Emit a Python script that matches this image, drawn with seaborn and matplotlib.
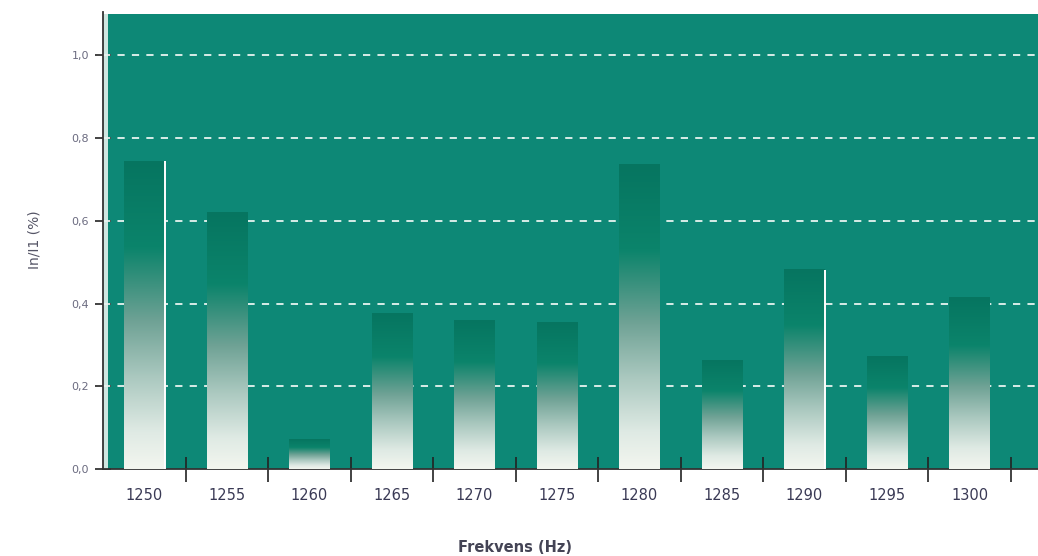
import numpy as np
import pandas as pd
import matplotlib
matplotlib.use("Agg")
import matplotlib.pyplot as plt
from matplotlib.colors import LinearSegmentedColormap
from matplotlib.ticker import FuncFormatter, FixedLocator
import seaborn as sns

# Harmonic content per frequency
frequencies = ["1250", "1255", "1260", "1265", "1270", "1275",
               "1280", "1285", "1290", "1295", "1300"]
ratios = [0.744, 0.621, 0.072, 0.377, 0.360, 0.355,
          0.737, 0.263, 0.482, 0.272, 0.414]
y_ticks = [0.0, 0.2, 0.4, 0.6, 0.8, 1.0]
edge_highlight = ["1250", "1290"]

df = pd.DataFrame({"freq": frequencies, "ratio": ratios})

sns.set_theme(style="white")
plt.rcParams["font.family"] = ["DejaVu Sans"]

BG = "#0d8876"
W, H = 1038, 556
fig = plt.figure(figsize=(W / 100, H / 100), dpi=100)
left_px, bottom_px, top_px = 103, 469, 14
ax = fig.add_axes([left_px / W, (H - bottom_px) / H,
                   1 - left_px / W, (bottom_px - top_px) / H])
ax.set_facecolor(BG)

sns.barplot(data=df, x="freq", y="ratio", width=0.49, color=BG, ax=ax,
            saturation=1, zorder=3)

# Vertical gradient: dark teal at the top fading to off-white at the base
grad_cmap = LinearSegmentedColormap.from_list(
    "bar_grad",
    [(0.0, "#f3f6ef"), (0.12, "#dfeae4"), (0.3, "#aac8bf"),
     (0.48, "#6fa295"), (0.6, "#3d927f"), (0.72, "#0b846b"),
     (1.0, "#067560")])
gradient = np.linspace(0, 1, 256).reshape(-1, 1)

for patch, name in zip(ax.patches, frequencies):
    x0, y0 = patch.get_x(), patch.get_y()
    w, h = patch.get_width(), patch.get_height()
    patch.set_visible(False)
    ax.imshow(gradient, cmap=grad_cmap, aspect="auto", origin="lower",
              extent=(x0, x0 + w, y0, y0 + h), zorder=3, interpolation="bicubic")
    if name in edge_highlight:
        ax.plot([x0 + w + 0.008, x0 + w + 0.008], [0, h], color="white",
                lw=1.4, zorder=4, solid_capstyle="butt")

# Thin light strip along the value axis
ax.axvspan(-0.5, -0.44, color="#cfe6e0", zorder=1, lw=0)

ax.set_xlim(-0.5, 10.83)
ax.set_ylim(0, 1.1)

# Dashed grid behind the bars
for v in y_ticks[1:]:
    ax.axhline(v, color="#e8f4f0", lw=1.3, ls=(0, (4, 4)), zorder=2)

ax.yaxis.set_major_locator(FixedLocator(y_ticks))
ax.yaxis.set_major_formatter(FuncFormatter(lambda v, p: f"{v:.1f}".replace(".", ",")))
ax.set_xticks(np.arange(len(frequencies)))
ax.set_xticklabels(frequencies)
ax.xaxis.set_minor_locator(FixedLocator(np.arange(len(frequencies)) + 0.5))

ax.tick_params(axis="y", which="major", direction="inout", length=12, width=1.2,
               color="#222222", labelsize=8, labelcolor="#6b6b80", pad=4, left=True)
ax.tick_params(axis="x", which="major", length=0, labelsize=10.5,
               labelcolor="#3a3a55", pad=14)
ax.tick_params(axis="x", which="minor", direction="inout", length=18, width=1.2,
               color="#222222", bottom=True)

for side in ["top", "right"]:
    ax.spines[side].set_visible(False)
for side in ["left", "bottom"]:
    ax.spines[side].set_visible(True)
    ax.spines[side].set_color("#333333")
    ax.spines[side].set_linewidth(1.3)
ax.spines["left"].set_bounds(0, 1.105)

ax.set_xlabel("")
ax.set_ylabel("")
fig.text(515 / W, 1 - 547 / H, "Frekvens (Hz)", fontsize=10.5, fontweight="bold",
         color="#444455", ha="center", va="center")
fig.text(35 / W, 1 - 240 / H, "In/I1 (%)", fontsize=10, color="#555566",
         rotation=90, ha="center", va="center")

fig.savefig("out.png", dpi=100)
